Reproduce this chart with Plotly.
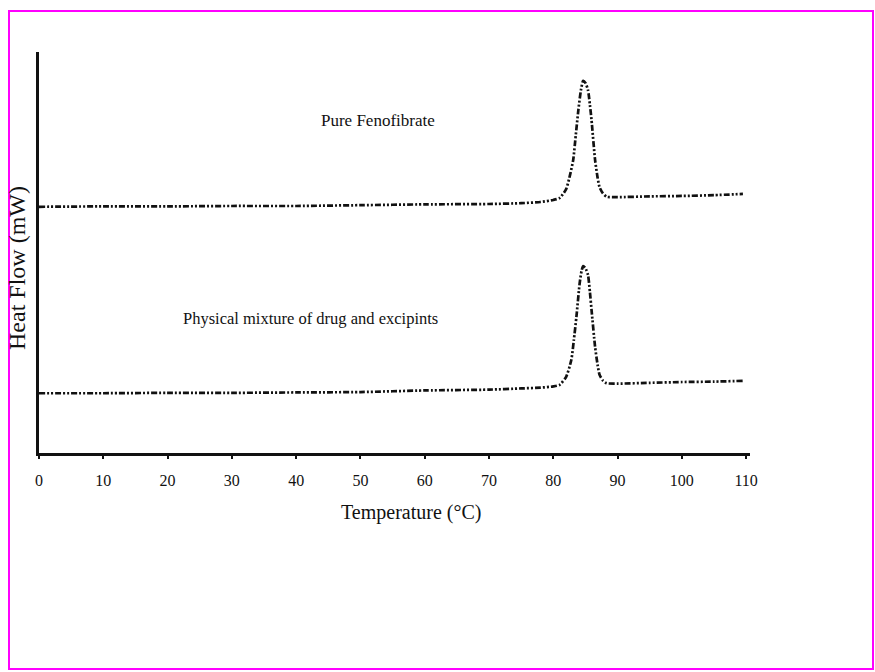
import plotly.graph_objects as go

# Temperature (°C) and heat flow (arbitrary mW offset units)
temp_pure = [0, 10, 20, 30, 40, 50, 60, 70, 75, 78, 80, 81, 82, 82.6, 83.1, 83.5, 83.9, 84.3,
             84.65, 85.0, 85.4, 85.7, 85.95, 86.5, 86.9, 87.2, 87.7, 88.3, 90, 95, 100, 105, 109.5]
heat_pure = [6.14, 6.15, 6.15, 6.16, 6.16, 6.18, 6.20, 6.21, 6.23, 6.26, 6.31, 6.36, 6.58, 6.93,
             7.31, 7.93, 8.55, 9.05, 9.28, 9.23, 9.05, 8.68, 8.30, 7.31, 6.86, 6.63, 6.48, 6.39,
             6.38, 6.40, 6.41, 6.43, 6.46]

temp_mix = [0, 10, 20, 30, 40, 50, 60, 70, 75, 78, 80, 81, 82, 82.8, 83.2, 83.6, 84.1, 84.4,
            84.65, 85.0, 85.4, 85.7, 85.95, 86.5, 86.9, 87.2, 87.7, 88.3, 90, 95, 100, 105, 109.5]
heat_mix = [1.49, 1.49, 1.50, 1.50, 1.51, 1.52, 1.56, 1.58, 1.61, 1.63, 1.66, 1.70, 1.90, 2.32,
            2.82, 3.40, 4.23, 4.54, 4.66, 4.61, 4.44, 4.01, 3.57, 2.65, 2.19, 1.95, 1.81, 1.74,
            1.73, 1.75, 1.77, 1.78, 1.80]

x_ticks = [0, 10, 20, 30, 40, 50, 60, 70, 80, 90, 100, 110]
labels = ["Pure Fenofibrate", "Physical mixture of drug and excipints"]

W, H = 875, 672
L, R, T, B = 39, 125, 52, 219
pw, ph = W - L - R, H - T - B

def px2paper(x, y):
    return (x - L) / pw, (H - B - y) / ph

FONT = "Liberation Serif, Times New Roman, serif"
dash = "6px,2px,2px,2px,2px,2px"

fig = go.Figure()
fig.add_trace(go.Scatter(x=temp_pure, y=heat_pure, mode="lines", line=dict(color="#111", width=2.7, dash=dash, shape="spline", smoothing=0.6), showlegend=False))
fig.add_trace(go.Scatter(x=temp_mix, y=heat_mix, mode="lines", line=dict(color="#111", width=2.7, dash=dash, shape="spline", smoothing=0.6), showlegend=False))

fig.update_xaxes(range=[0, 110.6], tickvals=x_ticks, ticks="outside", ticklen=3, tickwidth=2,
                 tickcolor="#111", showline=True, linewidth=2.5, linecolor="#111", showgrid=False,
                 zeroline=False, tickfont=dict(family=FONT, size=16, color="#111"),
                 ticklabelstandoff=8)
fig.update_yaxes(range=[0, 10], showticklabels=False, ticks="", showline=True, linewidth=2.5,
                 linecolor="#111", showgrid=False, zeroline=False)

ann = []
x0, y0 = px2paper(411, 512)
ann.append(dict(x=x0, y=y0, xref="paper", yref="paper", text="Temperature (°C)", showarrow=False,
                font=dict(family=FONT, size=20, color="#111"), xanchor="center", yanchor="middle"))
x0, y0 = px2paper(17, 268)
ann.append(dict(x=x0, y=y0, xref="paper", yref="paper", text="Heat Flow (mW)", showarrow=False,
                textangle=-90, font=dict(family=FONT, size=24, color="#111"), xanchor="center", yanchor="middle"))
x0, y0 = px2paper(378, 120)
ann.append(dict(x=x0, y=y0, xref="paper", yref="paper", text=labels[0], showarrow=False,
                font=dict(family=FONT, size=17, color="#111"), xanchor="center", yanchor="middle"))
x0, y0 = px2paper(310, 318)
ann.append(dict(x=x0, y=y0, xref="paper", yref="paper", text=labels[1], showarrow=False,
                font=dict(family=FONT, size=16.5, color="#111"), xanchor="center", yanchor="middle"))

bx0, by0 = px2paper(9, 669)
bx1, by1 = px2paper(873, 11)
fig.add_shape(type="rect", xref="paper", yref="paper", x0=bx0, y0=by0, x1=bx1, y1=by1,
              line=dict(color="#ff00ff", width=2), fillcolor="rgba(0,0,0,0)", layer="above")

fig.update_layout(width=W, height=H, margin=dict(l=L, r=R, t=T, b=B),
                  paper_bgcolor="white", plot_bgcolor="white", annotations=ann)

fig.write_html("out.html")
